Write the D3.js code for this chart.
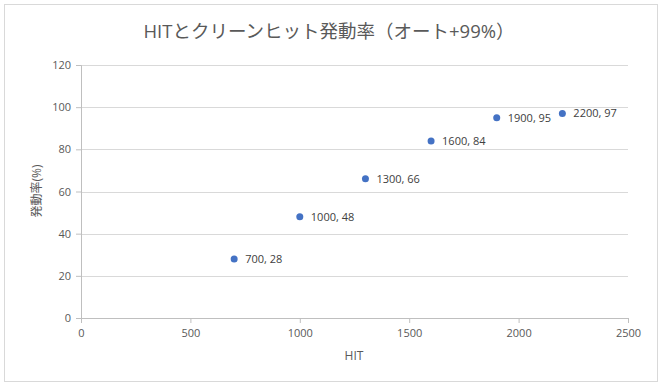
<!DOCTYPE html>
<html>
<head>
<meta charset="utf-8">
<script src="https://cdn.jsdelivr.net/npm/d3@7"></script>
<style>
  body { margin: 0; background: #fff; }
  svg text { font-family: "Open Sans", "Noto Sans CJK JP", sans-serif; }
</style>
</head>
<body>
<svg width="663" height="390"></svg>
<script>
var hitValues = [700, 1000, 1300, 1600, 1900, 2200];
var rateValues = [28, 48, 66, 84, 95, 97];
var xTicks = [0, 500, 1000, 1500, 2000, 2500];
var yTicks = [0, 20, 40, 60, 80, 100, 120];

var svg = d3.select("svg"),
    margin = {top: 65, right: 35, bottom: 72, left: 81},
    width = 628 - margin.left,
    height = 318 - margin.top;

// chart frame
svg.append("rect")
    .attr("x", 4.5).attr("y", 4.5)
    .attr("width", 653).attr("height", 377)
    .attr("fill", "#fff")
    .attr("stroke", "#d9d9d9");

var g = svg.append("g").attr("transform", "translate(" + margin.left + "," + margin.top + ")");

var x = d3.scaleLinear().domain([0, 2500]).range([0, width]),
    y = d3.scaleLinear().domain([0, 120]).range([height, 0]);

// gridlines
g.selectAll("line.grid")
  .data(yTicks.filter(function(d) { return d > 0; }))
  .enter().append("line")
    .attr("class", "grid")
    .attr("x1", 0).attr("x2", width)
    .attr("y1", function(d) { return Math.round(y(d)) + 0.5; })
    .attr("y2", function(d) { return Math.round(y(d)) + 0.5; })
    .attr("stroke", "#d9d9d9");

var xAxis = g.append("g")
    .attr("transform", "translate(0," + height + ")")
    .call(d3.axisBottom(x).tickValues(xTicks).tickFormat(d3.format("d")).tickSize(5).tickPadding(6));
var yAxis = g.append("g")
    .call(d3.axisLeft(y).tickValues(yTicks).tickFormat(d3.format("d")).tickSize(5).tickPadding(5));

[xAxis, yAxis].forEach(function(a) {
  a.selectAll("path, line").attr("stroke", "#bfbfbf");
  a.selectAll("text").attr("fill", "#595959").style("font-size", "11px");
});

// points
g.selectAll("circle.pt")
  .data(hitValues)
  .enter().append("circle")
    .attr("class", "pt")
    .attr("cx", function(d) { return x(d); })
    .attr("cy", function(d, i) { return y(rateValues[i]); })
    .attr("r", 3.5)
    .attr("fill", "#4472c4");

g.selectAll("text.lbl")
  .data(hitValues)
  .enter().append("text")
    .attr("class", "lbl")
    .attr("x", function(d) { return x(d) + 11; })
    .attr("y", function(d, i) { return y(rateValues[i]) + 4; })
    .attr("fill", "#404040")
    .style("font-size", "11px")
    .text(function(d, i) { return d + ", " + rateValues[i]; });

svg.append("text")
    .attr("x", 329).attr("y", 38)
    .attr("text-anchor", "middle")
    .attr("fill", "#595959")
    .style("font-size", "18.5px")
    .text("HITとクリーンヒット発動率（オート+99%）");

svg.append("text")
    .attr("x", 354).attr("y", 360)
    .attr("text-anchor", "middle")
    .attr("fill", "#595959")
    .style("font-size", "12px")
    .text("HIT");

svg.append("text")
    .attr("transform", "translate(41,191) rotate(-90)")
    .attr("text-anchor", "middle")
    .attr("fill", "#595959")
    .style("font-size", "12px")
    .text("発動率(%)");
</script>
</body>
</html>
